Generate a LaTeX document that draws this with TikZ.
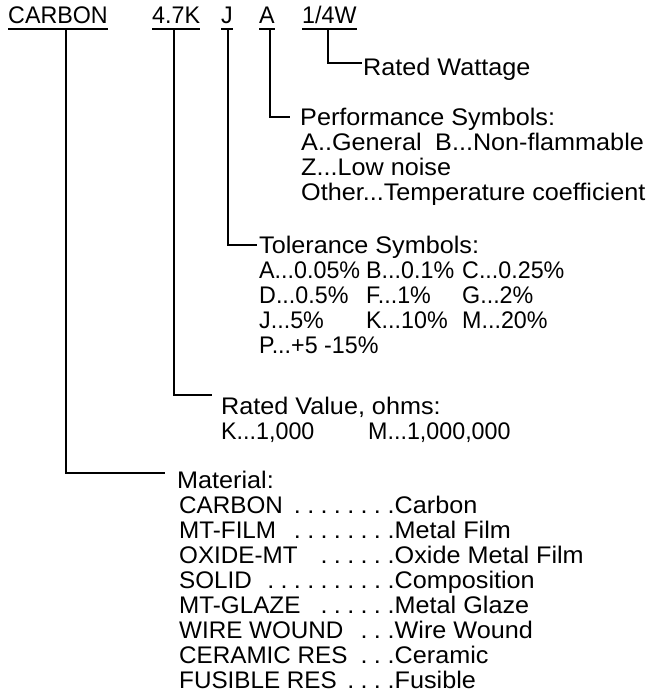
\documentclass[tikz,border=0pt]{standalone}
\usepackage{fontspec}
\setmainfont[FakeStretch=1.05]{Liberation Sans}
\newfontfamily\nf[FakeStretch=0.97]{Liberation Sans}
\newfontfamily\mf[FakeStretch=1.01]{Liberation Sans}
\newcommand\dotlead[1]{\foreach \k in {1,...,#1}{\makebox[13.33pt][l]{.}}}
\begin{document}
\begin{tikzpicture}[x=1pt,y=-1pt,
  txt/.style={anchor=base west,inner sep=0pt,font=\fontsize{24}{25}\selectfont},
  ntxt/.style={anchor=base west,inner sep=0pt,font=\fontsize{24}{25}\selectfont\nf},
  mtxt/.style={anchor=base west,inner sep=0pt,font=\fontsize{24}{25}\selectfont\mf},
  lead/.style={anchor=base east,inner sep=0pt,font=\fontsize{24}{25}\selectfont},
  conn/.style={line width=2pt,line join=miter},
  uline/.style={line width=2pt}]
\useasboundingbox (0,0) rectangle (655,694);
% top code
\node[ntxt] (carbon) at (8,23) {CARBON};
\node[ntxt] (val) at (152,23) {4.7K};
\node[ntxt] (tol) at (221,23) {J};
\node[ntxt] (perf) at (259,23) {A};
\node[ntxt] (watt) at (302,23) {1/4W};
\foreach \n in {carbon,val,tol,perf,watt}
  \draw[uline] ([yshift=-6pt]\n.base west) -- ([yshift=-6pt]\n.base east);
% connectors
\coordinate (s1) at (66,29);  \coordinate (e1) at (165,473);
\coordinate (s2) at (174,29); \coordinate (e2) at (212,395);
\coordinate (s3) at (228,29); \coordinate (e3) at (257,245);
\coordinate (s4) at (270,29); \coordinate (e4) at (290,117);
\coordinate (s5) at (328,29); \coordinate (e5) at (362,63);
\foreach \i in {1,...,5} \draw[conn] (s\i) |- (e\i);
% wattage
\node[txt] (wattlbl) at (363,75) {Rated Wattage};
% performance
\node[txt] (perfh) at (300,125) {Performance Symbols:};
\node[txt] (perfa) at (301,150) {A..General};
\node[txt] (perfb) at (435,150) {B...Non-flammable};
\node[txt] (perfz) at (301,175) {Z...Low noise};
\node[txt] (perfo) at (301,200) {Other...Temperature coefficient};
% tolerance
\node[txt] (tolh) at (259,253) {Tolerance Symbols:};
\node[ntxt] (ta) at (259,278) {A...0.05\%};
\node[ntxt] (tb) at (366,278) {B...0.1\%};
\node[ntxt] (tc) at (462,278) {C...0.25\%};
\node[ntxt] (td) at (259,303) {D...0.5\%};
\node[ntxt] (tf) at (366,303) {F...1\%};
\node[ntxt] (tg) at (462,303) {G...2\%};
\node[ntxt] (tj) at (259,328) {J...5\%};
\node[ntxt] (tk) at (366,328) {K...10\%};
\node[ntxt] (tm) at (462,328) {M...20\%};
\node[ntxt] (tp) at (259,353) {P...+5 -15\%};
% rated value
\node[txt] (valh) at (221,414) {Rated Value, ohms:};
\node[ntxt] (valk) at (221,439) {K...1,000};
\node[ntxt] (valm) at (368,439) {M...1,000,000};
% material
\node[txt] (math) at (177,488) {Material:};
\foreach \nm/\ds/\nd [count=\r] in {CARBON/Carbon/7, MT-FILM/Metal Film/7,
    OXIDE-MT/Oxide Metal Film/5, SOLID/Composition/9, MT-GLAZE/Metal Glaze/5,
    WIRE WOUND/Wire Wound/2, CERAMIC RES/Ceramic/2, FUSIBLE RES/Fusible/3}{
  \node[mtxt] (mn\r) at (179,488+25*\r) {\nm};
  \node[lead] (ml\r) at (387.5,488+25*\r) {\dotlead{\nd}};
  \node[txt] (md\r) at (387.5,488+25*\r) {.\ds};
}
\end{tikzpicture}
\end{document}
